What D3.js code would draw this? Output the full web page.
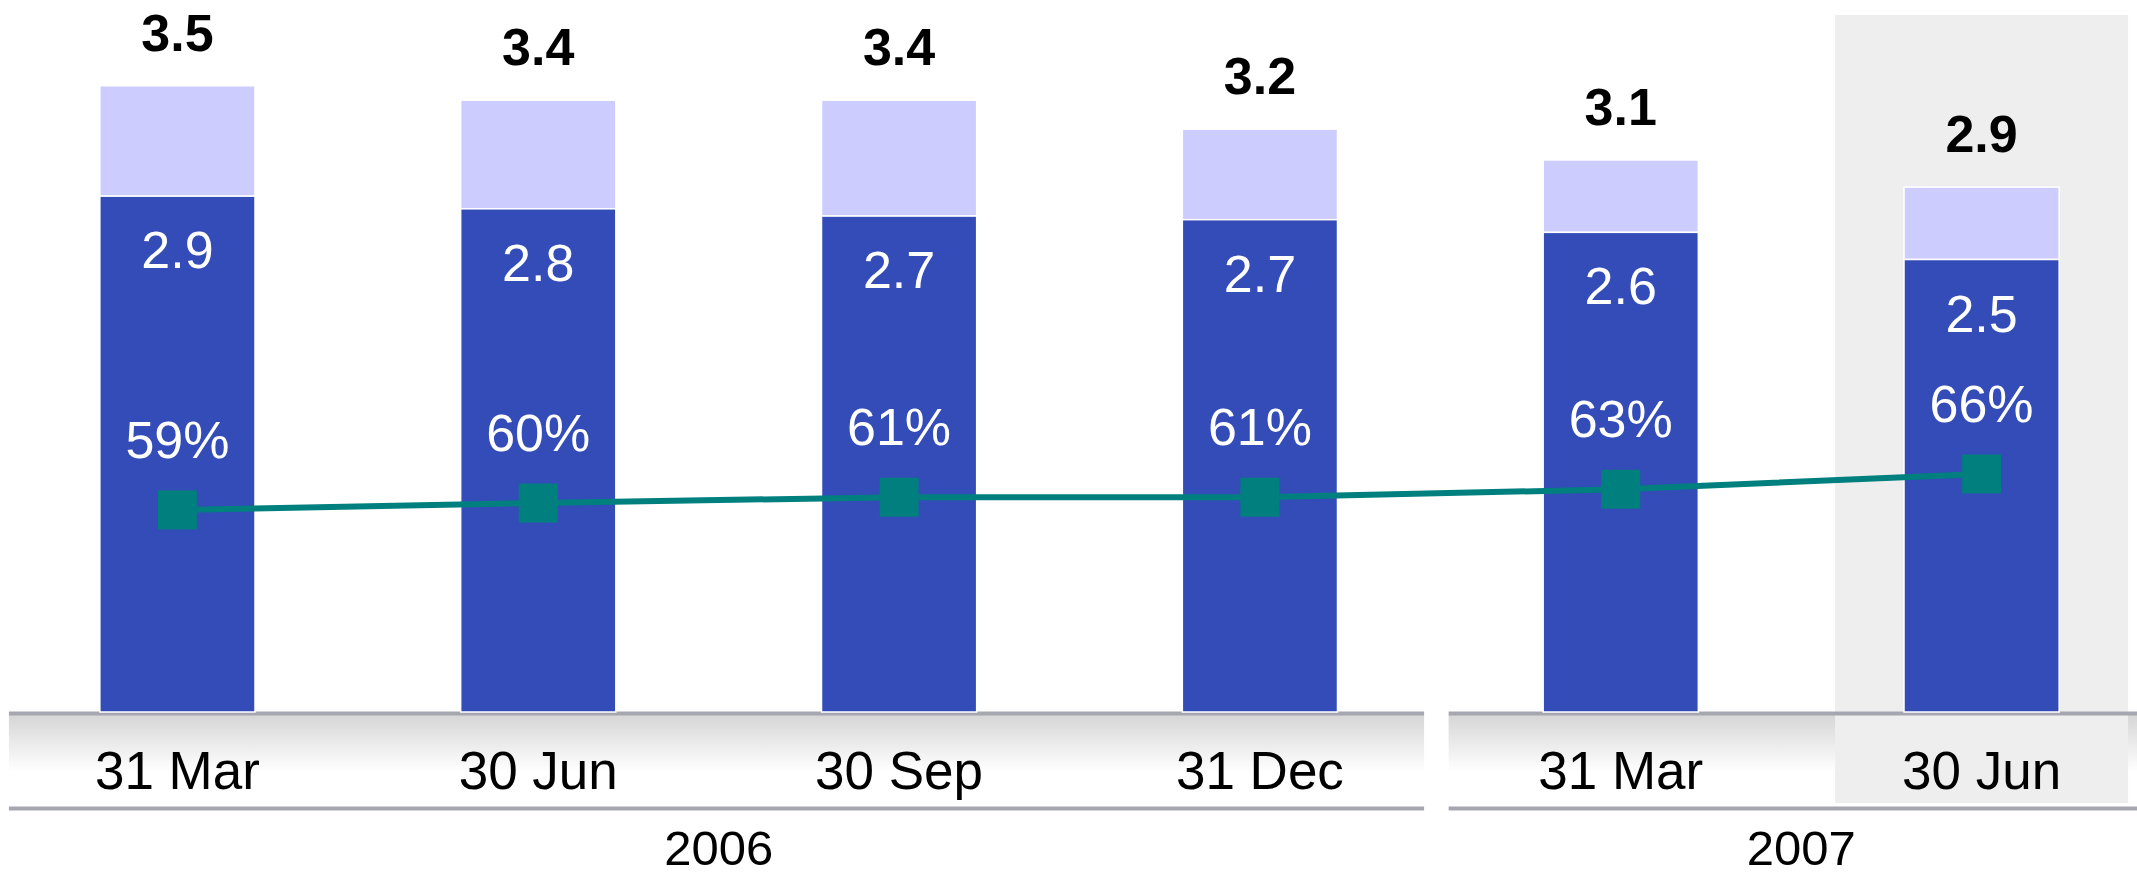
<!DOCTYPE html>
<html>
<head>
<meta charset="utf-8">
<script src="https://cdn.jsdelivr.net/npm/d3@7.9.0/dist/d3.min.js"></script>
<style>
  html, body { margin: 0; padding: 0; background: #fff; }
  svg { display: block; font-family: Arial, "Liberation Sans", sans-serif; }
</style>
</head>
<body>
<svg id="chart"></svg>
<script>
// quarter-end dates, grouped by year
const quarters = ["31 Mar 06", "30 Jun 06", "30 Sep 06", "31 Dec 06", "31 Mar 07", "30 Jun 07"];
const quarterLabels = ["31 Mar", "30 Jun", "30 Sep", "31 Dec", "31 Mar", "30 Jun"];
const years = ["2006", "2007"];
const yearOf = ["2006", "2006", "2006", "2006", "2007", "2007"];

// stacked bars: dark core segment and the total
const coreValues = [2.85, 2.78, 2.74, 2.72, 2.65, 2.50];
const totalValues = [3.46, 3.38, 3.38, 3.22, 3.05, 2.90];
const coreLabels = ["2.9", "2.8", "2.7", "2.7", "2.6", "2.5"];
const totalLabels = ["3.5", "3.4", "3.4", "3.2", "3.1", "2.9"];

// share line (%)
const shareValues = [59.0, 60.3, 61.4, 61.4, 62.9, 65.8];
const shareLabels = ["59%", "60%", "61%", "61%", "63%", "66%"];

const width = 2137, height = 877;
const baseY = 712;

const svg = d3.select("#chart")
  .attr("width", width)
  .attr("height", height);

const x = d3.scaleBand()
  .domain(quarters)
  .range([-3, 2162])
  .paddingInner(0.57)
  .paddingOuter(0.285);

const y = d3.scaleLinear()
  .domain([0, 4])
  .range([baseY, baseY - 4 * 181]);

const y2 = d3.scaleLinear()
  .domain([0, 100])
  .range([822, 293]);

const step = x.step();
const cx = d => x(d) + x.bandwidth() / 2;

// gradient for the category band
const defs = svg.append("defs");
const grad = defs.append("linearGradient")
  .attr("id", "bandGrad")
  .attr("x1", 0).attr("y1", 0).attr("x2", 0).attr("y2", 1);
grad.append("stop").attr("offset", "0%").attr("stop-color", "#d6d6d6");
grad.append("stop").attr("offset", "62%").attr("stop-color", "#ffffff");
grad.append("stop").attr("offset", "100%").attr("stop-color", "#ffffff");

// year groups
const groups = years.map(yr => {
  const qs = quarters.filter((q, i) => yearOf[i] === yr);
  return { year: yr, first: qs[0], last: qs[qs.length - 1] };
});
groups.forEach((g, i) => {
  g.x0 = i === 0 ? cx(g.first) - step * 0.467 : cx(g.first) - step * 0.477;
  g.x1 = i === groups.length - 1 ? width : cx(g.last) + step * 0.455;
});

svg.append("g").selectAll("rect")
  .data(groups)
  .enter()
  .append("rect")
  .attr("x", d => d.x0)
  .attr("y", baseY + 3)
  .attr("width", d => d.x1 - d.x0)
  .attr("height", 92)
  .attr("fill", "url(#bandGrad)");

// highlight for latest quarter
const last = quarters[quarters.length - 1];
svg.append("rect")
  .attr("x", cx(last) - 146.5)
  .attr("y", 15)
  .attr("width", 293)
  .attr("height", 803 - 15)
  .attr("fill", "#eeeeee");

// band rules
const rules = svg.append("g");
groups.forEach(g => {
  [baseY + 1.5, 808.5].forEach(ly => {
    rules.append("line")
      .attr("x1", g.x0).attr("x2", g.x1)
      .attr("y1", ly).attr("y2", ly)
      .attr("stroke", "#a6a6b0")
      .attr("stroke-width", 4);
  });
});

// bars
const bars = svg.append("g");
bars.selectAll(".total")
  .data(quarters)
  .enter()
  .append("rect")
  .attr("x", d => x(d))
  .attr("y", (d, i) => y(totalValues[i]))
  .attr("width", x.bandwidth())
  .attr("height", (d, i) => y(coreValues[i]) - y(totalValues[i]))
  .attr("fill", "#ccccff")
  .attr("stroke", "#ffffff")
  .attr("stroke-width", 1.5);

bars.selectAll(".core")
  .data(quarters)
  .enter()
  .append("rect")
  .attr("x", d => x(d))
  .attr("y", (d, i) => y(coreValues[i]))
  .attr("width", x.bandwidth())
  .attr("height", (d, i) => baseY - y(coreValues[i]))
  .attr("fill", "#334cb8")
  .attr("stroke", "#ffffff")
  .attr("stroke-width", 1.5);

// total labels
svg.append("g").selectAll("text")
  .data(quarters)
  .enter()
  .append("text")
  .attr("x", d => cx(d))
  .attr("y", (d, i) => Math.max(48, y(totalValues[i]) - 35))
  .attr("text-anchor", "middle")
  .style("font-size", "52px")
  .style("font-weight", "bold")
  .attr("fill", "#000")
  .text((d, i) => totalLabels[i]);

// core labels
svg.append("g").selectAll("text")
  .data(quarters)
  .enter()
  .append("text")
  .attr("x", d => cx(d))
  .attr("y", (d, i) => y(coreValues[i]) + 72)
  .attr("text-anchor", "middle")
  .style("font-size", "52px")
  .attr("fill", "#fff")
  .text((d, i) => coreLabels[i]);

// share line
const line = d3.line()
  .x(d => cx(d))
  .y((d, i) => y2(shareValues[i]));

svg.append("path")
  .datum(quarters)
  .attr("d", line)
  .attr("fill", "none")
  .attr("stroke", "#007f7f")
  .attr("stroke-width", 6);

svg.append("g").selectAll("rect")
  .data(quarters)
  .enter()
  .append("rect")
  .attr("x", d => cx(d) - 19.5)
  .attr("y", (d, i) => y2(shareValues[i]) - 19.5)
  .attr("width", 39)
  .attr("height", 39)
  .attr("fill", "#007f7f");

svg.append("g").selectAll("text")
  .data(quarters)
  .enter()
  .append("text")
  .attr("x", d => cx(d))
  .attr("y", (d, i) => y2(shareValues[i]) - 52)
  .attr("text-anchor", "middle")
  .style("font-size", "52px")
  .attr("fill", "#fff")
  .text((d, i) => shareLabels[i]);

// category labels
svg.append("g").selectAll("text")
  .data(quarters)
  .enter()
  .append("text")
  .attr("x", d => cx(d))
  .attr("y", 789)
  .attr("text-anchor", "middle")
  .style("font-size", "53px")
  .attr("fill", "#000")
  .text((d, i) => quarterLabels[i]);

// year labels
svg.append("g").selectAll("text")
  .data(groups)
  .enter()
  .append("text")
  .attr("x", d => (cx(d.first) + cx(d.last)) / 2)
  .attr("y", 865)
  .attr("text-anchor", "middle")
  .style("font-size", "49px")
  .attr("fill", "#000")
  .text(d => d.year);
</script>
</body>
</html>
